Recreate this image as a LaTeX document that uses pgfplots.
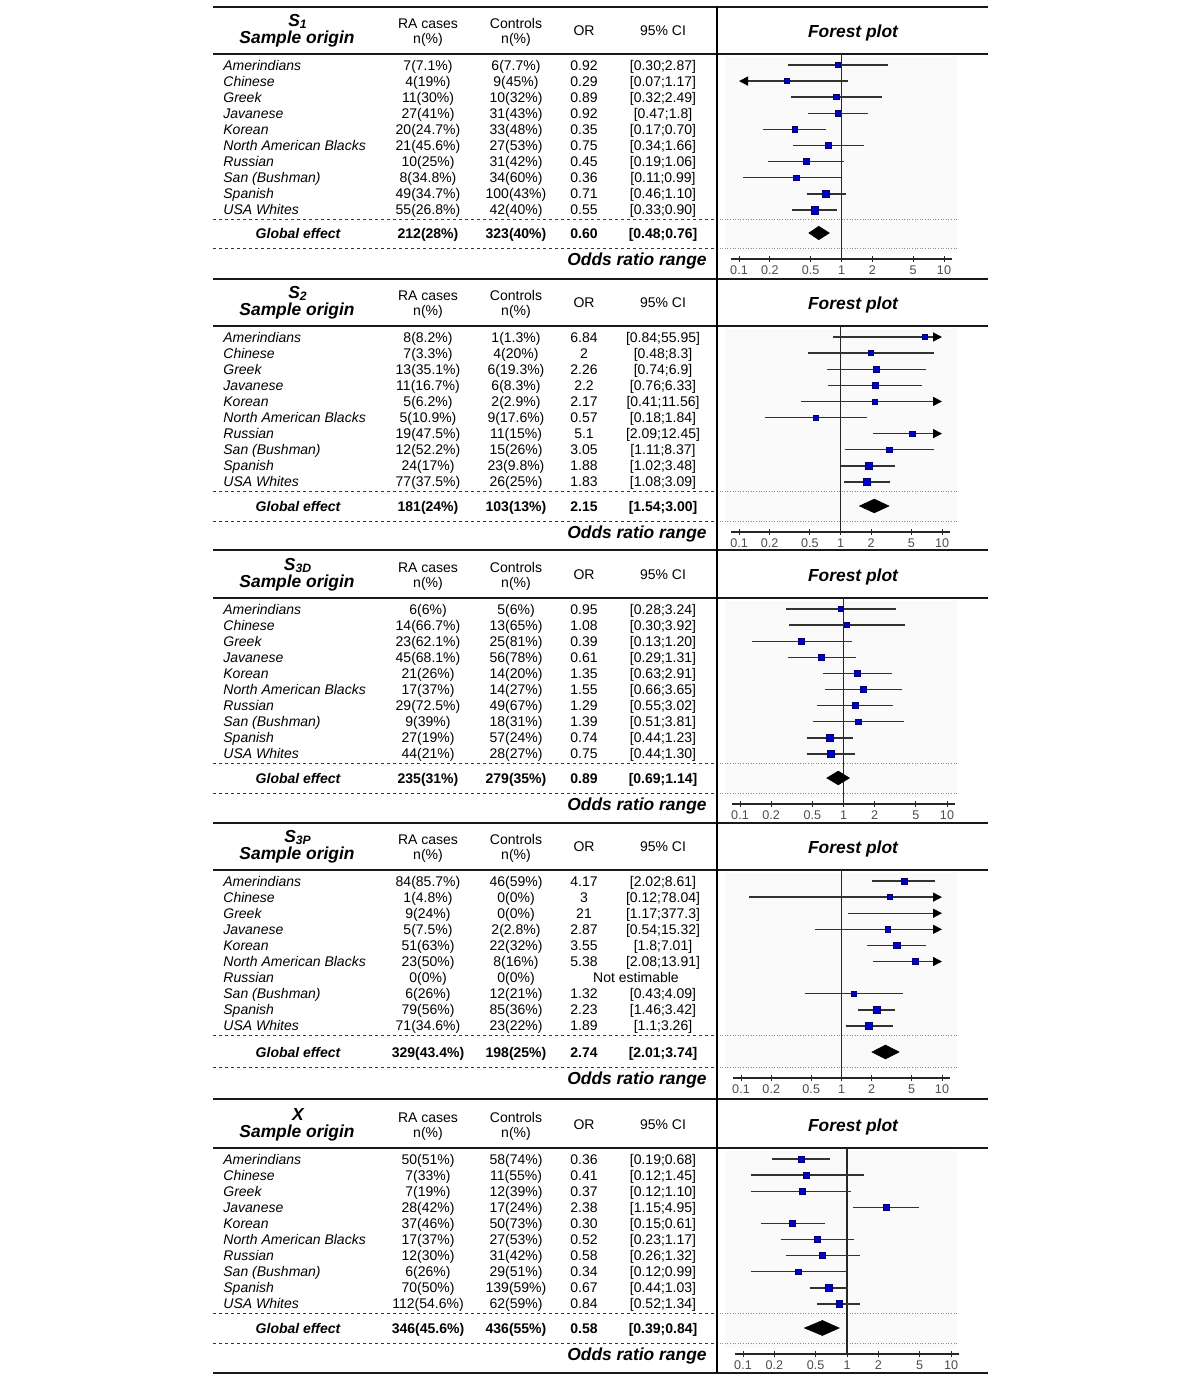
\documentclass[border=0pt]{standalone}
\usepackage{fontspec}
\setmainfont{Liberation Sans}
\usepackage{pgfplots}
\pgfplotsset{compat=1.18}
\usetikzlibrary{arrows.meta}

\definecolor{sqfill}{RGB}{0,0,204}
\definecolor{sqdraw}{RGB}{0,0,110}
\definecolor{cigray}{RGB}{50,50,50}

\newcommand\rf{\fontsize{7}{8}\selectfont}
\newcommand\hf{\fontsize{8.7}{10}\selectfont\bfseries\itshape}
\newcommand\tf{\fontsize{6.3}{7}\selectfont}

\tikzset{
  ci/.style={draw=cigray, line width=0.7pt},
  cir/.style={ci, -{Triangle[length=4.5pt,width=4.5pt,color=black]}},
  cil/.style={ci, {Triangle[length=4.5pt,width=4.5pt,color=black]}-},
  dl/.style={line width=0.5pt, draw=black!80, dash pattern=on 1.6pt off 1.4pt},
  dt/.style={line width=0.35pt, draw=black!45, dash pattern=on 0.5pt off 0.8pt},
  thick line/.style={line width=1.4pt, draw=black!90},
  sq/.style={only marks, mark=square*, mark options={fill=sqfill, draw=sqdraw, line width=0.3pt}},
  dia/.style={fill=black, draw=black, line width=0.3pt},
  refl/.style={draw=black!85, line width=0.6pt},
}

% table text row: R, index, name, ra, ctrl, or, ci
\newcommand\trow[7]{%
  \node[anchor=base west, font=\rf\itshape] at (223,{#1+16.1*#2+5}) {#3};
  \node[anchor=base, font=\rf] at (428,{#1+16.1*#2+5}) {#4};
  \node[anchor=base, font=\rf] at (516,{#1+16.1*#2+5}) {#5};
  \node[anchor=base, font=\rf] at (584,{#1+16.1*#2+5}) {#6};
  \node[anchor=base, font=\rf] at (663,{#1+16.1*#2+5}) {#7};}

% header and frame: R, G, label
\newcommand\hdr[3]{%
  \fill[black!2] (725,{#1-8}) rectangle (957,{#2+20});
  \node[anchor=base, font=\hf] at (298,{#1-39}) {#3};
  \node[anchor=base, font=\hf] at (297,{#1-22}) {Sample origin};
  \node[anchor=base, font=\rf] at (428,{#1-37}) {RA cases};
  \node[anchor=base, font=\rf] at (428,{#1-22}) {n(\%)};
  \node[anchor=base, font=\rf] at (516,{#1-37}) {Controls};
  \node[anchor=base, font=\rf] at (516,{#1-22}) {n(\%)};
  \node[anchor=base, font=\rf] at (584,{#1-30}) {OR};
  \node[anchor=base, font=\rf] at (663,{#1-30}) {95\% CI};
  \node[anchor=base, font=\hf] at (853,{#1-28}) {Forest plot};
  \draw[thick line] (213,{#1-11}) -- (988,{#1-11});
  \draw[dl] (213,{#1+154}) -- (717,{#1+154});
  \draw[dt] (717,{#1+154}) -- (958,{#1+154});
  \draw[dl] (213,{#2+15}) -- (717,{#2+15});
  \draw[dt] (717,{#2+15}) -- (958,{#2+15});
  \node[anchor=base, font=\rf\bfseries\itshape] at (298,{#2+5}) {Global effect};
  \node[anchor=base east, font=\hf] at (707,{#2+32}) {Odds ratio range};}

% global row: G, ra, ctrl, or, ci
\newcommand\grow[5]{%
  \node[anchor=base, font=\rf\bfseries] at (428,{#1+5}) {#2};
  \node[anchor=base, font=\rf\bfseries] at (516,{#1+5}) {#3};
  \node[anchor=base, font=\rf\bfseries] at (584,{#1+5}) {#4};
  \node[anchor=base, font=\rf\bfseries] at (663,{#1+5}) {#5};}

\begin{document}
\begin{tikzpicture}
\begin{scope}[x=0.5pt,y=-0.5pt]
\useasboundingbox (0,0) rectangle (1200,1382);
\end{scope}

% ---------- Panel 1 : S1 ----------
\begin{scope}[x=0.5pt,y=-0.5pt, every node/.style={inner sep=0pt}]
\hdr{65}{233}{S\textsubscript{1}}
\end{scope}
\begin{axis}[xmode=log, log basis x=10, scale only axis,
  axis x line=bottom, axis y line=none,
  x axis line style={-, line width=0.6pt, draw=black!85},
  xtick={0.1,0.2,0.5,1,2,5,10}, xticklabels={0.1,0.2,0.5,1,2,5,10},
  minor xtick={}, ytick=\empty, tick align=center, major tick length=3pt,
  tick style={black!85, line width=0.5pt},
  xticklabel style={font=\tf, text=black!70, inner sep=1pt, yshift=-0.5pt},
  clip=false, anchor=south west,
  at={(365.5pt,-129.5pt)}, width=110.5pt, height=102.5pt,
  xmin=0.08355, xmax=11.969, ymin=-13.05, ymax=-0.317]
\addplot[refl] coordinates {(1,-0.317) (1,-13.05)};
\addplot[ci] coordinates {(0.30,-1) (2.87,-1)};
\addplot[sq, mark size=1.3pt] coordinates {(0.92,-1)};
\addplot[cil] coordinates {(0.1,-2) (1.17,-2)};
\addplot[sq, mark size=1.3pt] coordinates {(0.29,-2)};
\addplot[ci] coordinates {(0.32,-3) (2.49,-3)};
\addplot[sq, mark size=1.3pt] coordinates {(0.89,-3)};
\addplot[ci] coordinates {(0.47,-4) (1.8,-4)};
\addplot[sq, mark size=1.45pt] coordinates {(0.92,-4)};
\addplot[ci] coordinates {(0.17,-5) (0.70,-5)};
\addplot[sq, mark size=1.3pt] coordinates {(0.35,-5)};
\addplot[ci] coordinates {(0.34,-6) (1.66,-6)};
\addplot[sq, mark size=1.45pt] coordinates {(0.75,-6)};
\addplot[ci] coordinates {(0.19,-7) (1.06,-7)};
\addplot[sq, mark size=1.45pt] coordinates {(0.45,-7)};
\addplot[ci] coordinates {(0.11,-8) (0.99,-8)};
\addplot[sq, mark size=1.45pt] coordinates {(0.36,-8)};
\addplot[ci] coordinates {(0.46,-9) (1.10,-9)};
\addplot[sq, mark size=1.75pt] coordinates {(0.71,-9)};
\addplot[ci] coordinates {(0.33,-10) (0.90,-10)};
\addplot[sq, mark size=1.95pt] coordinates {(0.55,-10)};
\addplot[dia] coordinates {(0.48,-11.435) (0.60,-11.02) (0.76,-11.435) (0.60,-11.85)} -- cycle;
\end{axis}

% ---------- Panel 2 : S2 ----------
\begin{scope}[x=0.5pt,y=-0.5pt, every node/.style={inner sep=0pt}]
\hdr{337}{506}{S\textsubscript{2}}
\end{scope}
\begin{axis}[xmode=log, log basis x=10, scale only axis,
  axis x line=bottom, axis y line=none,
  x axis line style={-, line width=0.6pt, draw=black!85},
  xtick={0.1,0.2,0.5,1,2,5,10}, xticklabels={0.1,0.2,0.5,1,2,5,10},
  minor xtick={}, ytick=\empty, tick align=center, major tick length=3pt,
  tick style={black!85, line width=0.5pt},
  xticklabel style={font=\tf, text=black!70, inner sep=1pt, yshift=-0.5pt},
  clip=false, anchor=south west,
  at={(365.5pt,-266pt)}, width=109.5pt, height=103pt,
  xmin=0.0834, xmax=11.99, ymin=-13.112, ymax=-0.317]
\addplot[refl] coordinates {(1,-0.317) (1,-13.112)};
\addplot[cir] coordinates {(0.84,-1) (10,-1)};
\addplot[sq, mark size=1.25pt] coordinates {(6.84,-1)};
\addplot[ci] coordinates {(0.48,-2) (8.3,-2)};
\addplot[sq, mark size=1.3pt] coordinates {(2,-2)};
\addplot[ci] coordinates {(0.74,-3) (6.9,-3)};
\addplot[sq, mark size=1.45pt] coordinates {(2.26,-3)};
\addplot[ci] coordinates {(0.76,-4) (6.33,-4)};
\addplot[sq, mark size=1.45pt] coordinates {(2.2,-4)};
\addplot[cir] coordinates {(0.41,-5) (10,-5)};
\addplot[sq, mark size=1.3pt] coordinates {(2.17,-5)};
\addplot[ci] coordinates {(0.18,-6) (1.84,-6)};
\addplot[sq, mark size=1.3pt] coordinates {(0.57,-6)};
\addplot[cir] coordinates {(2.09,-7) (10,-7)};
\addplot[sq, mark size=1.3pt] coordinates {(5.1,-7)};
\addplot[ci] coordinates {(1.11,-8) (8.37,-8)};
\addplot[sq, mark size=1.45pt] coordinates {(3.05,-8)};
\addplot[ci] coordinates {(1.02,-9) (3.48,-9)};
\addplot[sq, mark size=1.75pt] coordinates {(1.88,-9)};
\addplot[ci] coordinates {(1.08,-10) (3.09,-10)};
\addplot[sq, mark size=1.75pt] coordinates {(1.83,-10)};
\addplot[dia] coordinates {(1.54,-11.497) (2.15,-11.07) (3.00,-11.497) (2.15,-11.92)} -- cycle;
\end{axis}

% ---------- Panel 3 : S3D ----------
\begin{scope}[x=0.5pt,y=-0.5pt, every node/.style={inner sep=0pt}]
\hdr{609}{778}{S\textsubscript{3D}}
\end{scope}
\begin{axis}[xmode=log, log basis x=10, scale only axis,
  axis x line=bottom, axis y line=none,
  x axis line style={-, line width=0.6pt, draw=black!85},
  xtick={0.1,0.2,0.5,1,2,5,10}, xticklabels={0.1,0.2,0.5,1,2,5,10},
  minor xtick={}, ytick=\empty, tick align=center, major tick length=3pt,
  tick style={black!85, line width=0.5pt},
  xticklabel style={font=\tf, text=black!70, inner sep=1pt, yshift=-0.5pt},
  clip=false, anchor=south west,
  at={(366pt,-402pt)}, width=111.5pt, height=103pt,
  xmin=0.0837, xmax=11.948, ymin=-13.112, ymax=-0.317]
\addplot[refl] coordinates {(1,-0.317) (1,-13.112)};
\addplot[ci] coordinates {(0.28,-1) (3.24,-1)};
\addplot[sq, mark size=1.25pt] coordinates {(0.95,-1)};
\addplot[ci] coordinates {(0.30,-2) (3.92,-2)};
\addplot[sq, mark size=1.3pt] coordinates {(1.08,-2)};
\addplot[ci] coordinates {(0.13,-3) (1.20,-3)};
\addplot[sq, mark size=1.45pt] coordinates {(0.39,-3)};
\addplot[ci] coordinates {(0.29,-4) (1.31,-4)};
\addplot[sq, mark size=1.45pt] coordinates {(0.61,-4)};
\addplot[ci] coordinates {(0.63,-5) (2.91,-5)};
\addplot[sq, mark size=1.45pt] coordinates {(1.35,-5)};
\addplot[ci] coordinates {(0.66,-6) (3.65,-6)};
\addplot[sq, mark size=1.45pt] coordinates {(1.55,-6)};
\addplot[ci] coordinates {(0.55,-7) (3.02,-7)};
\addplot[sq, mark size=1.45pt] coordinates {(1.29,-7)};
\addplot[ci] coordinates {(0.51,-8) (3.81,-8)};
\addplot[sq, mark size=1.3pt] coordinates {(1.39,-8)};
\addplot[ci] coordinates {(0.44,-9) (1.23,-9)};
\addplot[sq, mark size=1.75pt] coordinates {(0.74,-9)};
\addplot[ci] coordinates {(0.44,-10) (1.30,-10)};
\addplot[sq, mark size=1.75pt] coordinates {(0.75,-10)};
\addplot[dia] coordinates {(0.69,-11.497) (0.89,-11.07) (1.14,-11.497) (0.89,-11.92)} -- cycle;
\end{axis}

% ---------- Panel 4 : S3P ----------
\begin{scope}[x=0.5pt,y=-0.5pt, every node/.style={inner sep=0pt}]
\hdr{881}{1052}{S\textsubscript{3P}}
\end{scope}
\begin{axis}[xmode=log, log basis x=10, scale only axis,
  axis x line=bottom, axis y line=none,
  x axis line style={-, line width=0.6pt, draw=black!85},
  xtick={0.1,0.2,0.5,1,2,5,10}, xticklabels={0.1,0.2,0.5,1,2,5,10},
  minor xtick={}, ytick=\empty, tick align=center, major tick length=3pt,
  tick style={black!85, line width=0.5pt},
  xticklabel style={font=\tf, text=black!70, inner sep=1pt, yshift=-0.5pt},
  clip=false, anchor=south west,
  at={(366.5pt,-539pt)}, width=108.5pt, height=104pt,
  xmin=0.08325, xmax=12.012, ymin=-13.236, ymax=-0.317]
\addplot[refl] coordinates {(1,-0.317) (1,-13.236)};
\addplot[ci] coordinates {(2.02,-1) (8.61,-1)};
\addplot[sq, mark size=1.5pt] coordinates {(4.17,-1)};
\addplot[cir] coordinates {(0.12,-2) (10,-2)};
\addplot[sq, mark size=1.3pt] coordinates {(3,-2)};
\addplot[cir] coordinates {(1.17,-3) (10,-3)};
\addplot[cir] coordinates {(0.54,-4) (10,-4)};
\addplot[sq, mark size=1.3pt] coordinates {(2.87,-4)};
\addplot[ci] coordinates {(1.8,-5) (7.01,-5)};
\addplot[sq, mark size=1.65pt] coordinates {(3.55,-5)};
\addplot[cir] coordinates {(2.08,-6) (10,-6)};
\addplot[sq, mark size=1.5pt] coordinates {(5.38,-6)};
\addplot[ci] coordinates {(0.43,-8) (4.09,-8)};
\addplot[sq, mark size=1.3pt] coordinates {(1.32,-8)};
\addplot[ci] coordinates {(1.46,-9) (3.42,-9)};
\addplot[sq, mark size=1.75pt] coordinates {(2.23,-9)};
\addplot[ci] coordinates {(1.1,-10) (3.26,-10)};
\addplot[sq, mark size=1.75pt] coordinates {(1.89,-10)};
\addplot[dia] coordinates {(2.01,-11.621) (2.74,-11.19) (3.74,-11.621) (2.74,-12.05)} -- cycle;
\end{axis}

% ---------- Panel 5 : X ----------
\begin{scope}[x=0.5pt,y=-0.5pt, every node/.style={inner sep=0pt}]
\hdr{1159}{1328}{X}
\end{scope}
\begin{axis}[xmode=log, log basis x=10, scale only axis,
  axis x line=bottom, axis y line=none,
  x axis line style={-, line width=0.6pt, draw=black!85},
  xtick={0.1,0.2,0.5,1,2,5,10}, xticklabels={0.1,0.2,0.5,1,2,5,10},
  minor xtick={}, ytick=\empty, tick align=center, major tick length=3pt,
  tick style={black!85, line width=0.5pt},
  xticklabel style={font=\tf, text=black!70, inner sep=1pt, yshift=-0.5pt},
  clip=false, anchor=south west,
  at={(367.5pt,-677pt)}, width=112pt, height=103pt,
  xmin=0.08377, xmax=11.938, ymin=-13.112, ymax=-0.317]
\addplot[refl] coordinates {(1,-0.317) (1,-13.112)};
\addplot[ci] coordinates {(0.19,-1) (0.68,-1)};
\addplot[sq, mark size=1.5pt] coordinates {(0.36,-1)};
\addplot[ci] coordinates {(0.12,-2) (1.45,-2)};
\addplot[sq, mark size=1.5pt] coordinates {(0.41,-2)};
\addplot[ci] coordinates {(0.12,-3) (1.10,-3)};
\addplot[sq, mark size=1.5pt] coordinates {(0.37,-3)};
\addplot[ci] coordinates {(1.15,-4) (4.95,-4)};
\addplot[sq, mark size=1.5pt] coordinates {(2.38,-4)};
\addplot[ci] coordinates {(0.15,-5) (0.61,-5)};
\addplot[sq, mark size=1.5pt] coordinates {(0.30,-5)};
\addplot[ci] coordinates {(0.23,-6) (1.17,-6)};
\addplot[sq, mark size=1.5pt] coordinates {(0.52,-6)};
\addplot[ci] coordinates {(0.26,-7) (1.32,-7)};
\addplot[sq, mark size=1.5pt] coordinates {(0.58,-7)};
\addplot[ci] coordinates {(0.12,-8) (0.99,-8)};
\addplot[sq, mark size=1.3pt] coordinates {(0.34,-8)};
\addplot[ci] coordinates {(0.44,-9) (1.03,-9)};
\addplot[sq, mark size=1.6pt] coordinates {(0.67,-9)};
\addplot[ci] coordinates {(0.52,-10) (1.34,-10)};
\addplot[sq, mark size=1.6pt] coordinates {(0.84,-10)};
\addplot[dia] coordinates {(0.39,-11.497) (0.58,-11.03) (0.84,-11.497) (0.58,-11.96)} -- cycle;
\end{axis}

% ---------- table text and frame ----------
\begin{scope}[x=0.5pt,y=-0.5pt, every node/.style={inner sep=0pt}]
\foreach \t in {7,279,550,823,1099,1373}{\draw[thick line] (213,\t) -- (988,\t);}
\draw[line width=1pt] (717,7) -- (717,1373);

% Panel 1
\trow{65}{0}{Amerindians}{7(7.1\%)}{6(7.7\%)}{0.92}{[0.30;2.87]}
\trow{65}{1}{Chinese}{4(19\%)}{9(45\%)}{0.29}{[0.07;1.17]}
\trow{65}{2}{Greek}{11(30\%)}{10(32\%)}{0.89}{[0.32;2.49]}
\trow{65}{3}{Javanese}{27(41\%)}{31(43\%)}{0.92}{[0.47;1.8]}
\trow{65}{4}{Korean}{20(24.7\%)}{33(48\%)}{0.35}{[0.17;0.70]}
\trow{65}{5}{North American Blacks}{21(45.6\%)}{27(53\%)}{0.75}{[0.34;1.66]}
\trow{65}{6}{Russian}{10(25\%)}{31(42\%)}{0.45}{[0.19;1.06]}
\trow{65}{7}{San (Bushman)}{8(34.8\%)}{34(60\%)}{0.36}{[0.11;0.99]}
\trow{65}{8}{Spanish}{49(34.7\%)}{100(43\%)}{0.71}{[0.46;1.10]}
\trow{65}{9}{USA Whites}{55(26.8\%)}{42(40\%)}{0.55}{[0.33;0.90]}
\grow{233}{212(28\%)}{323(40\%)}{0.60}{[0.48;0.76]}

% Panel 2
\trow{337}{0}{Amerindians}{8(8.2\%)}{1(1.3\%)}{6.84}{[0.84;55.95]}
\trow{337}{1}{Chinese}{7(3.3\%)}{4(20\%)}{2}{[0.48;8.3]}
\trow{337}{2}{Greek}{13(35.1\%)}{6(19.3\%)}{2.26}{[0.74;6.9]}
\trow{337}{3}{Javanese}{11(16.7\%)}{6(8.3\%)}{2.2}{[0.76;6.33]}
\trow{337}{4}{Korean}{5(6.2\%)}{2(2.9\%)}{2.17}{[0.41;11.56]}
\trow{337}{5}{North American Blacks}{5(10.9\%)}{9(17.6\%)}{0.57}{[0.18;1.84]}
\trow{337}{6}{Russian}{19(47.5\%)}{11(15\%)}{5.1}{[2.09;12.45]}
\trow{337}{7}{San (Bushman)}{12(52.2\%)}{15(26\%)}{3.05}{[1.11;8.37]}
\trow{337}{8}{Spanish}{24(17\%)}{23(9.8\%)}{1.88}{[1.02;3.48]}
\trow{337}{9}{USA Whites}{77(37.5\%)}{26(25\%)}{1.83}{[1.08;3.09]}
\grow{506}{181(24\%)}{103(13\%)}{2.15}{[1.54;3.00]}

% Panel 3
\trow{609}{0}{Amerindians}{6(6\%)}{5(6\%)}{0.95}{[0.28;3.24]}
\trow{609}{1}{Chinese}{14(66.7\%)}{13(65\%)}{1.08}{[0.30;3.92]}
\trow{609}{2}{Greek}{23(62.1\%)}{25(81\%)}{0.39}{[0.13;1.20]}
\trow{609}{3}{Javanese}{45(68.1\%)}{56(78\%)}{0.61}{[0.29;1.31]}
\trow{609}{4}{Korean}{21(26\%)}{14(20\%)}{1.35}{[0.63;2.91]}
\trow{609}{5}{North American Blacks}{17(37\%)}{14(27\%)}{1.55}{[0.66;3.65]}
\trow{609}{6}{Russian}{29(72.5\%)}{49(67\%)}{1.29}{[0.55;3.02]}
\trow{609}{7}{San (Bushman)}{9(39\%)}{18(31\%)}{1.39}{[0.51;3.81]}
\trow{609}{8}{Spanish}{27(19\%)}{57(24\%)}{0.74}{[0.44;1.23]}
\trow{609}{9}{USA Whites}{44(21\%)}{28(27\%)}{0.75}{[0.44;1.30]}
\grow{778}{235(31\%)}{279(35\%)}{0.89}{[0.69;1.14]}

% Panel 4
\trow{881}{0}{Amerindians}{84(85.7\%)}{46(59\%)}{4.17}{[2.02;8.61]}
\trow{881}{1}{Chinese}{1(4.8\%)}{0(0\%)}{3}{[0.12;78.04]}
\trow{881}{2}{Greek}{9(24\%)}{0(0\%)}{21}{[1.17;377.3]}
\trow{881}{3}{Javanese}{5(7.5\%)}{2(2.8\%)}{2.87}{[0.54;15.32]}
\trow{881}{4}{Korean}{51(63\%)}{22(32\%)}{3.55}{[1.8;7.01]}
\trow{881}{5}{North American Blacks}{23(50\%)}{8(16\%)}{5.38}{[2.08;13.91]}
\trow{881}{6}{Russian}{0(0\%)}{0(0\%)}{}{}
\node[anchor=base, font=\rf] at (636,{881+16.1*6+5}) {Not estimable};
\trow{881}{7}{San (Bushman)}{6(26\%)}{12(21\%)}{1.32}{[0.43;4.09]}
\trow{881}{8}{Spanish}{79(56\%)}{85(36\%)}{2.23}{[1.46;3.42]}
\trow{881}{9}{USA Whites}{71(34.6\%)}{23(22\%)}{1.89}{[1.1;3.26]}
\grow{1052}{329(43.4\%)}{198(25\%)}{2.74}{[2.01;3.74]}

% Panel 5
\trow{1159}{0}{Amerindians}{50(51\%)}{58(74\%)}{0.36}{[0.19;0.68]}
\trow{1159}{1}{Chinese}{7(33\%)}{11(55\%)}{0.41}{[0.12;1.45]}
\trow{1159}{2}{Greek}{7(19\%)}{12(39\%)}{0.37}{[0.12;1.10]}
\trow{1159}{3}{Javanese}{28(42\%)}{17(24\%)}{2.38}{[1.15;4.95]}
\trow{1159}{4}{Korean}{37(46\%)}{50(73\%)}{0.30}{[0.15;0.61]}
\trow{1159}{5}{North American Blacks}{17(37\%)}{27(53\%)}{0.52}{[0.23;1.17]}
\trow{1159}{6}{Russian}{12(30\%)}{31(42\%)}{0.58}{[0.26;1.32]}
\trow{1159}{7}{San (Bushman)}{6(26\%)}{29(51\%)}{0.34}{[0.12;0.99]}
\trow{1159}{8}{Spanish}{70(50\%)}{139(59\%)}{0.67}{[0.44;1.03]}
\trow{1159}{9}{USA Whites}{112(54.6\%)}{62(59\%)}{0.84}{[0.52;1.34]}
\grow{1328}{346(45.6\%)}{436(55\%)}{0.58}{[0.39;0.84]}
\end{scope}
\end{tikzpicture}
\end{document}
